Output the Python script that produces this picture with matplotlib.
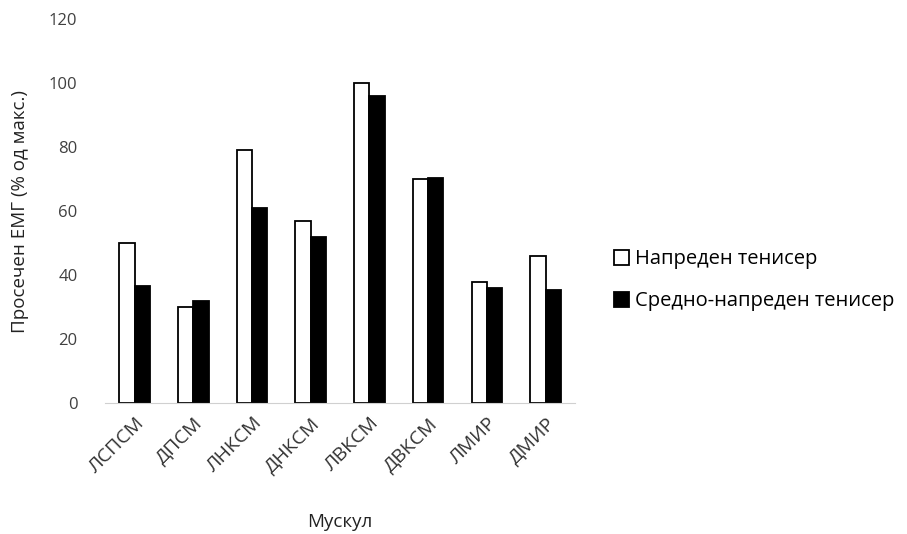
import matplotlib
matplotlib.use("Agg")
import matplotlib.pyplot as plt
import numpy as np
from matplotlib.patches import Patch

plt.rcParams['font.family'] = ['Open Sans', 'DejaVu Sans']

categories = ["ЛСПСМ", "ДПСМ", "ЛНКСМ", "ДНКСМ", "ЛВКСМ", "ДВКСМ", "ЛМИР", "ДМИР"]
advanced = [50, 30, 79, 57, 100, 70, 38, 46]
intermediate = [36.5, 32, 61, 52, 96, 70.5, 36, 35.5]
series_names = ["Напреден тенисер", "Средно-напреден тенисер"]
yticks = [0, 20, 40, 60, 80, 100, 120]

fig = plt.figure(figsize=(9.07, 5.34), dpi=100)
ax = fig.add_axes([0.116, 0.245, 0.518, 0.719])

x = np.arange(len(categories))
w = 0.26
ax.bar(x - w/2, advanced, w, color='white', edgecolor='black', linewidth=1.3)
ax.bar(x + w/2, intermediate, w, color='black', edgecolor='black', linewidth=1.3)

ax.set_xlim(-0.5, len(categories) - 0.5)
ax.set_ylim(0, 120)
ax.set_yticks(yticks)
ax.set_xticks(x)
ax.set_xticklabels(categories, rotation=45, ha='right', va='top', rotation_mode='anchor',
                   fontsize=14, color='#333333')
for s in ['top', 'right', 'left']:
    ax.spines[s].set_visible(False)
ax.spines['bottom'].set_color('#d0d0d0')
ax.tick_params(axis='y', length=0, labelsize=12, colors='#404040', pad=20)
ax.tick_params(axis='x', length=0, colors='#333333', pad=8)
ax.set_ylabel("Просечен ЕМГ (% од макс.)", fontsize=13.5, color='#222222', labelpad=14)
ax.set_xlabel("Мускул", fontsize=13.5, color='#222222', labelpad=26)

handles = [Patch(facecolor='white', edgecolor='black', linewidth=1.3),
           Patch(facecolor='black', edgecolor='black', linewidth=1.3)]
fig.legend(handles, series_names, loc='center left', bbox_to_anchor=(0.657, 0.475),
           frameon=False, fontsize=14.5, handlelength=0.75, handleheight=0.75,
           handletextpad=0.3, labelspacing=1.1)

fig.savefig("out.png", dpi=100)
